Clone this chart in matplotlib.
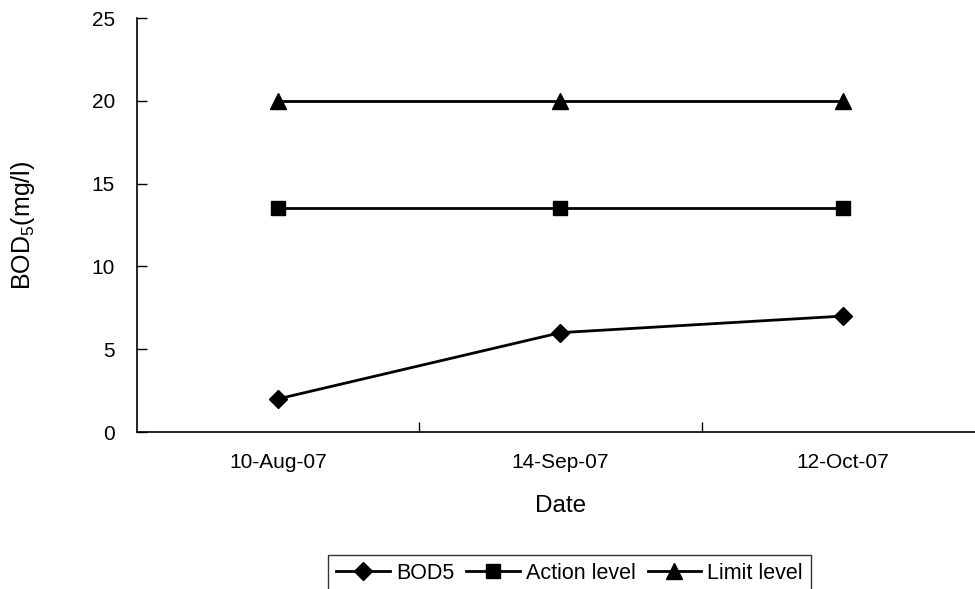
import matplotlib
matplotlib.use("Agg")
import matplotlib.pyplot as plt

plt.rcParams['font.family'] = ['Liberation Sans', 'DejaVu Sans']

dates = ["10-Aug-07", "14-Sep-07", "12-Oct-07"]
bod5 = [2, 6, 7]
action_level = [13.5, 13.5, 13.5]
limit_level = [20, 20, 20]
y_ticks = [0, 5, 10, 15, 20, 25]

W, H = 975, 589
fig = plt.figure(figsize=(W / 100, H / 100), dpi=100)
ax = fig.add_axes([137 / W, (H - 432) / H, 847 / W, (432 - 18) / H])

x = list(range(len(dates)))
ax.plot(x, bod5, color='black', lw=2, marker='D', ms=9, label='BOD5')
ax.plot(x, action_level, color='black', lw=2, marker='s', ms=10, label='Action level')
ax.plot(x, limit_level, color='black', lw=2, marker='^', ms=11, label='Limit level')

ax.set_xlim(-0.5, len(dates) - 0.5)
ax.set_ylim(0, 25)
ax.set_yticks(y_ticks)
ax.set_xticks(x)
ax.set_xticklabels(dates)
ax.set_xticks([i + 0.5 for i in range(len(dates) - 1)], minor=True)

ax.tick_params(axis='x', which='major', length=0, pad=15, labelsize=15)
ax.tick_params(axis='x', which='minor', direction='in', length=7, width=1)
ax.tick_params(axis='y', direction='in', length=7, width=1, pad=16, labelsize=15)

for s in ['top', 'right']:
    ax.spines[s].set_visible(False)
for s in ['left', 'bottom']:
    ax.spines[s].set_linewidth(1.2)

ax.set_xlabel('Date', fontsize=17.5, labelpad=17)
ax.set_ylabel(r'BOD$_{\mathregular{5}}$(mg/l)', fontsize=18, labelpad=39)

leg = fig.legend(loc='upper center', bbox_to_anchor=(569.5 / W, (H - 555) / H),
                 ncol=3, fontsize=15.5, frameon=True, fancybox=False,
                 handlelength=2.5, handletextpad=0.28, columnspacing=0.55,
                 borderpad=0.35, borderaxespad=0)
leg.get_frame().set_edgecolor('black')
leg.get_frame().set_linewidth(1)

fig.savefig('out.png', dpi=100)
